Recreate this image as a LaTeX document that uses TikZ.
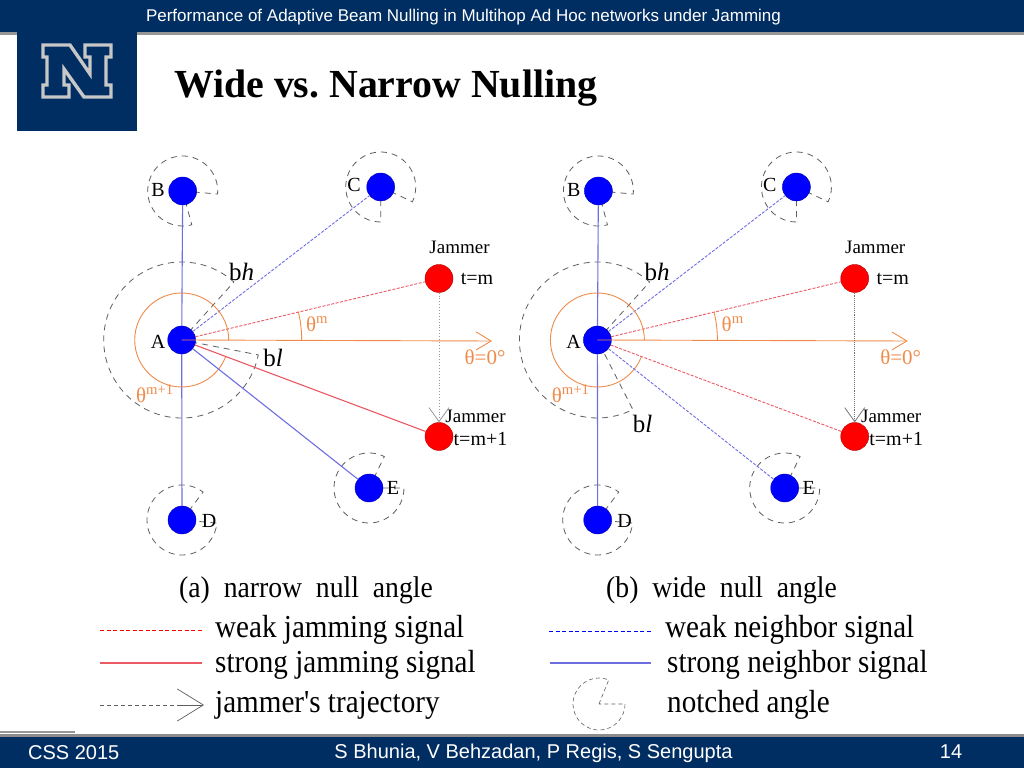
\documentclass[tikz,border=0pt]{standalone}
\usepackage{fontspec}
\setmainfont{Liberation Serif}
\newfontfamily\slidefont{Liberation Sans}
\newfontfamily\plainserif{Liberation Serif}
\usetikzlibrary{arrows.meta}
\frenchspacing
\pgfdeclarelayer{back}
\pgfsetlayers{back,main}
\definecolor{navy}{RGB}{0,46,98}
\definecolor{barline}{RGB}{150,150,150}
\definecolor{nullorange}{RGB}{240,140,75}
\definecolor{sigblue}{RGB}{110,110,225}
\definecolor{sigred}{RGB}{235,90,100}
\definecolor{notchgray}{RGB}{95,95,95}
\tikzset{station/.style = {circle, draw=blue!70!black, fill=blue, minimum size=28pt, inner sep=0pt},
         jammer/.style = {circle, draw=red!70!black, fill=red, minimum size=28pt, inner sep=0pt},
         label/.style = {inner sep=0pt, font=\fontsize{20}{20}\selectfont},
         jamlabel/.style = {inner sep=0pt, font=\fontsize{19}{19}\selectfont},
         beamlabel/.style = {inner sep=0pt, font=\fontsize{25}{25}\selectfont},
         anglabel/.style = {inner sep=0pt, text=nullorange, font=\fontsize{21}{21}\selectfont},
         legend/.style = {anchor=west, inner sep=0pt, font=\fontsize{32}{32}\selectfont, xscale=.91, transform shape},
         slidetext/.style = {inner sep=0pt, text=white, font=\slidefont\fontsize{17}{17}\selectfont},
         notchline/.style = {draw=notchgray, line width=.8pt, dash pattern=on 6pt off 5pt},
         weak/.style = {line width=.9pt, dash pattern=on 3pt off 1.5pt},
         keyweak/.style = {line width=1pt, dash pattern=on 4pt off 2.5pt},
         strong/.style = {line width=1.1pt},
         nullarc/.style = {draw=nullorange, line width=.9pt},
         openhead/.style = {-{Straight Barb[length=#1, width=20pt, line width=.8pt]}}}
\newcommand{\notch}[4]{\begin{pgfonlayer}{back}\draw[notchline] (#1.center) -- ++(#2:#4) arc (#2:#3:#4) -- cycle;\end{pgfonlayer}}
\newcommand{\panel}{
    \node[station] (A) at (181.7,428) {};
    \node[station] (B) at (182.7,577) {};
    \node[station] (C) at (380.7,581) {};
    \node[station] (D) at (182,248) {};
    \node[station] (E) at (369,280) {};
    \node[jammer] (Jm) at (439,489.5) {};
    \node[jammer] (Jn) at (439,331.5) {};
    \coordinate (zero) at (492,427);
    \notch{B}{-5}{285}{35}
    \notch{C}{-25}{270}{35}
    \notch{D}{53}{355}{35}
    \notch{E}{64}{360}{35}
    \draw[sigblue, strong] (A) -- (B);
    \draw[sigblue, strong] (A) -- (D);
    \draw[sigblue, weak] (A) -- (C);
    \draw[sigred, weak] (A) -- (Jm);
    \draw[nullarc] (A.center) ++(0:47) arc (0:339:47);
    \draw[nullarc] (A.center) ++(0:120) arc (0:13.5:120);
    \draw[nullarc, -{Straight Barb[length=15pt, width=18pt]}] (A.center) -- (zero);
    \node[label] (lA) at (158,426) {A};
    \node[label] (lB) at (158,578) {B};
    \node[label] (lC) at (354,583) {C};
    \node[label] (lD) at (209,247) {D};
    \node[label] (lE) at (393,280) {E};
    \node[jamlabel] (lJm) at (459.5,521) {Jammer};
    \node[label] (lTm) at (477,489) {t=m};
    \node[jamlabel] (lJn) at (475.5,352) {Jammer};
    \node[label] (lTn) at (480.5,329) {t=m+1};
    \node[beamlabel] (lbh) at (241.5,496) {b\textit{h}};
    \node[anglabel] (lm) at (317,444) {θ\textsuperscript{m}};
    \node[anglabel] (lzero) at (485,411) {θ=0°};
    \node[anglabel] (lmn) at (155,374) {θ\textsuperscript{m+1}};
}
\begin{document}
\begin{tikzpicture}[x=1pt, y=1pt]
    \useasboundingbox (0,0) rectangle (1024,768);
    \begin{pgfonlayer}{back}
        \fill[white] (0,0) rectangle (1024,768);
    \end{pgfonlayer}
    \fill[navy] (0,736) rectangle (1024,768);
    \fill[barline] (0,733) rectangle (1024,736);
    \fill[navy] (17,637) rectangle (137,736);
    \fill[barline] (0,35) rectangle (75,37);
    \fill[black!45] (0,31) rectangle (1024,34);
    \fill[navy] (0,0) rectangle (1024,31);
    \draw[black!22, line width=3.4pt, fill=navy, line join=miter] (43,723) -- (70,723) -- (90,694) -- (90,711) -- (85,711) -- (85,723) -- (111,723) -- (111,711) -- (106,711) -- (106,683) -- (111,683) -- (111,671) -- (84,671) -- (64,699) -- (64,683) -- (69,683) -- (69,671) -- (43,671) -- (43,683) -- (47,683) -- (47,711) -- (43,711) -- cycle;
    \node[slidetext, anchor=base] (header) at (463.5,746.5) {Performance of Adaptive Beam Nulling in Multihop Ad Hoc networks under Jamming};
    \node[inner sep=0pt, anchor=base west, font=\bfseries\fontsize{39.8}{40}\selectfont] (title) at (174,670) {Wide vs. Narrow Nulling};
    \node[slidetext, anchor=base west, font=\slidefont\fontsize{20}{20}\selectfont] (venue) at (28,9) {CSS 2015};
    \node[slidetext, anchor=base, font=\slidefont\fontsize{20}{20}\selectfont] (authors) at (533.5,10) {S Bhunia, V Behzadan, P Regis, S Sengupta};
    \node[slidetext, anchor=base, font=\slidefont\fontsize{20}{20}\selectfont] (page) at (951,10) {14};
    \begin{scope}[name prefix=a-]
        \panel
        \notch{A}{48}{349}{78}
        \draw[sigblue, strong] (A) -- (E);
        \draw[sigred, strong] (A) -- (Jn);
        \draw[black!40, dotted, line width=.9pt, openhead=14pt] (Jm) -- (Jn);
        \node[beamlabel] (lbl) at (273,410) {b\textit{l}};
    \end{scope}
    \begin{scope}[shift={(415.7,0)}, name prefix=b-]
        \panel
        \notch{A}{48}{297}{78}
        \draw[sigblue, weak] (A) -- (E);
        \draw[sigred, weak] (A) -- (Jn);
        \draw[black!55, densely dotted, line width=.9pt, openhead=14pt] (Jm) -- (Jn);
        \node[beamlabel] (lbl) at (227,344) {b\textit{l}};
    \end{scope}
    \node[legend, font=\fontsize{30}{30}\selectfont, xscale=1.014] (capa) at (179,178) {(a)\ \ narrow\ \ null\ \ angle};
    \node[legend, font=\fontsize{30}{30}\selectfont, xscale=1.014] (capb) at (606,178) {(b)\ \ wide\ \ null\ \ angle};
    \node[legend] (weakjam) at (215,138) {weak jamming signal};
    \node[legend] (strongjam) at (215,103) {strong jamming signal};
    \node[legend] (traj) at (215,63) {jammer{\plainserif '}s trajectory};
    \node[legend] (weaknb) at (665,138) {weak neighbor signal};
    \node[legend] (strongnb) at (667,103) {strong neighbor signal};
    \node[legend] (notched) at (667,63) {notched angle};
    \coordinate (wj0) at (100,138);
    \coordinate (wj1) at (202,138);
    \coordinate (sj0) at (100,105);
    \coordinate (sj1) at (202,105);
    \coordinate (tr0) at (100,63);
    \coordinate (tr1) at (204,63);
    \coordinate (wn0) at (549,137);
    \coordinate (wn1) at (652,137);
    \coordinate (sn0) at (550,105);
    \coordinate (sn1) at (651,105);
    \coordinate (icon) at (599,64);
    \draw[red, keyweak] (wj0) -- (wj1);
    \draw[sigred, strong] (sj0) -- (sj1);
    \draw[notchgray, line width=.7pt, dash pattern=on 4pt off 3pt] (tr0) -- (tr1);
    \draw[notchgray, line width=.7pt, -{Straight Barb[length=26pt, width=32pt, line width=.7pt]}] (tr0) ++(78,0) -- (tr1);
    \draw[blue, keyweak] (wn0) -- (wn1);
    \draw[sigblue, strong] (sn0) -- (sn1);
    \draw[notchline, line width=.6pt, dash pattern=on 4pt off 3pt] (icon) -- ++(68:26) arc (68:360:26) -- cycle;
\end{tikzpicture}
\end{document}
